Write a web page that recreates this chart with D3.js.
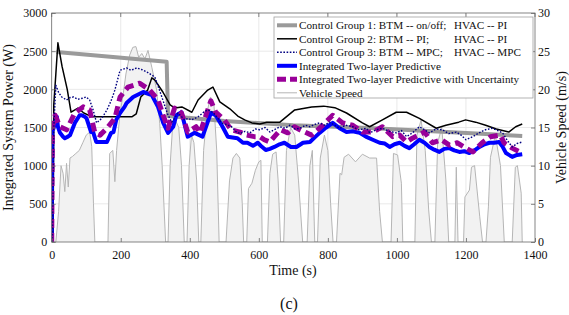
<!DOCTYPE html>
<html>
<head>
<meta charset="utf-8">
<script src="https://cdn.jsdelivr.net/npm/d3@7"></script>
<style>
  body { margin: 0; background: #fff; }
  text { font-family: "Liberation Serif", "Times New Roman", serif; fill: #111; }
</style>
</head>
<body>
<div id="chart"></div>
<script>
// tick values
const timeTicks = [0, 200, 400, 600, 800, 1000, 1200, 1400];
const powerTicks = [0, 500, 1000, 1500, 2000, 2500, 3000];
const speedTicks = [0, 5, 10, 15, 20, 25, 30];

// legend labels: [left part, HVAC part]
const legendLabels = [
  ['Control Group 1: BTM -- on/off;', 'HVAC -- PI'],
  ['Control Group 2: BTM -- PI;', 'HVAC -- PI'],
  ['Control Group 3: BTM -- MPC;', 'HVAC -- MPC'],
  ['Integrated Two-layer Predictive', ''],
  ['Integrated Two-layer Predictive with Uncertainty', ''],
  ['Vehicle Speed', ''],
];

// series, [time (s), power (W)]
const cg1 = [[14, 2490], [333, 2360], [337, 1650], [500, 1585], [700, 1530], [920, 1495], [1363, 1390]];

const cg2 = [[4, 0], [6, 1800], [12, 2200], [18, 2610], [30, 2300], [45, 2000], [56, 1700], [76, 1755],
  [93, 1690], [117, 1640], [150, 1640], [200, 1640], [232, 1640], [245, 1680], [258, 1900], [278, 1990],
  [290, 2150], [299, 2120], [322, 1965], [343, 1795], [357, 1755], [377, 1770], [406, 1700], [424, 1860],
  [452, 1990], [467, 2030], [487, 1835], [516, 1745], [539, 1650], [559, 1600], [580, 1560], [603, 1545],
  [623, 1570], [661, 1570], [704, 1730], [753, 1770], [788, 1780], [820, 1760], [854, 1690], [900, 1560],
  [921, 1510], [958, 1600], [998, 1700], [1028, 1700], [1065, 1620], [1114, 1490], [1142, 1530],
  [1179, 1570], [1199, 1600], [1228, 1570], [1257, 1530], [1288, 1480], [1324, 1440], [1344, 1510], [1363, 1545]];

const cg3 = [[2, 0], [6, 1500], [12, 2055], [20, 1960], [29, 1900], [36, 1880], [43, 1860], [52, 1890],
  [63, 1900], [76, 1870], [91, 1885], [100, 1900], [110, 1860], [120, 1730], [130, 1560], [145, 1620],
  [160, 1730], [172, 1850], [183, 1990], [198, 2250], [217, 2280], [230, 2250], [246, 2280], [260, 2260],
  [275, 2230], [299, 2160], [319, 1900], [337, 1660], [348, 1570], [366, 1690], [385, 1600], [395, 1620],
  [405, 1600], [424, 1640], [440, 1700], [452, 1730], [467, 1700], [492, 1560], [505, 1540], [521, 1510],
  [533, 1450], [545, 1420], [560, 1450], [574, 1430], [590, 1480], [603, 1470], [618, 1500], [632, 1440],
  [648, 1480], [661, 1510], [676, 1490], [690, 1530], [705, 1480], [719, 1490], [735, 1530], [748, 1510],
  [762, 1540], [776, 1560], [790, 1530], [805, 1570], [820, 1530], [834, 1490], [852, 1530], [872, 1510],
  [890, 1470], [912, 1490], [921, 1430], [940, 1470], [958, 1490], [978, 1450], [998, 1430], [1013, 1460],
  [1028, 1380], [1045, 1430], [1065, 1510], [1080, 1470], [1094, 1430], [1113, 1480], [1132, 1470],
  [1150, 1420], [1172, 1440], [1186, 1400], [1200, 1340], [1220, 1380], [1238, 1430], [1256, 1470],
  [1276, 1490], [1292, 1460], [1306, 1430], [1320, 1330], [1334, 1245], [1348, 1290], [1363, 1310]];

const twoLayer = [[0, 0], [2, 1470], [4, 1470], [15, 1640], [18, 1510], [24, 1430], [33, 1380], [38, 1360],
  [47, 1380], [53, 1400], [61, 1490], [67, 1560], [81, 1660], [87, 1660], [96, 1640], [101, 1620],
  [114, 1440], [120, 1440], [129, 1310], [140, 1310], [154, 1310], [160, 1310], [172, 1430], [179, 1440],
  [187, 1600], [198, 1690], [211, 1770], [217, 1820], [236, 1900], [265, 1965], [290, 1925], [308, 1770],
  [323, 1560], [337, 1430], [352, 1510], [361, 1660], [376, 1700], [394, 1380], [414, 1430], [437, 1380],
  [461, 1690], [475, 1660], [495, 1510], [510, 1380], [538, 1360], [554, 1300], [567, 1300], [583, 1260],
  [597, 1300], [608, 1250], [620, 1205], [632, 1220], [645, 1245], [660, 1280], [674, 1300], [693, 1245],
  [709, 1245], [728, 1300], [748, 1310], [762, 1370], [776, 1430], [795, 1500], [814, 1560], [834, 1490],
  [854, 1440], [872, 1450], [892, 1430], [910, 1380], [930, 1340], [950, 1300], [965, 1290], [979, 1245],
  [993, 1280], [1008, 1300], [1022, 1260], [1036, 1230], [1050, 1280], [1065, 1340], [1080, 1300],
  [1094, 1245], [1108, 1210], [1123, 1180], [1137, 1220], [1152, 1230], [1166, 1200], [1181, 1180],
  [1195, 1190], [1210, 1165], [1225, 1200], [1239, 1245], [1254, 1280], [1268, 1300], [1282, 1300],
  [1296, 1310], [1306, 1250], [1316, 1165], [1334, 1115], [1348, 1140], [1363, 1150]];

const twoLayerUnc = [[0, 0], [2, 1500], [10, 1660], [24, 1510], [43, 1470], [67, 1690], [91, 1770],
  [110, 1730], [125, 1430], [140, 1400], [160, 1490], [183, 1620], [198, 1900], [221, 2030], [255, 2080],
  [284, 1990], [308, 1860], [323, 1660], [337, 1490], [356, 1755], [376, 1690], [394, 1440], [418, 1510],
  [430, 1430], [461, 1850], [475, 1700], [500, 1600], [520, 1470], [545, 1440], [565, 1400], [587, 1380],
  [603, 1380], [616, 1340], [632, 1310], [645, 1380], [663, 1470], [684, 1430], [703, 1510], [719, 1470],
  [753, 1400], [776, 1490], [814, 1660], [843, 1560], [872, 1530], [901, 1440], [930, 1440], [958, 1510],
  [988, 1380], [1008, 1400], [1028, 1310], [1045, 1360], [1080, 1440], [1103, 1300], [1129, 1340],
  [1152, 1270], [1175, 1300], [1200, 1230], [1220, 1180], [1247, 1300], [1271, 1380], [1300, 1400],
  [1310, 1300], [1334, 1230], [1356, 1180]];

// vehicle speed, [time (s), speed (m/s)]
const speed = [[0, 0], [12, 0], [20, 4], [27, 10], [33, 9], [38, 6.6], [43, 10.3], [48, 7.2], [53, 11],
  [60, 11.2], [70, 11.6], [80, 12], [90, 13], [100, 14], [110, 14.4], [116, 12.5], [121, 5], [125, 0],
  [163, 0], [168, 11.6], [177, 12], [183, 7.9], [188, 12], [198, 17], [206, 19], [215, 22], [226, 24.5],
  [235, 25.5], [244, 25.6], [252, 24.2], [261, 24.7], [270, 24], [279, 25.1], [290, 22.9], [304, 19.9],
  [313, 15.5], [320, 10], [330, 0],
  [337, 0], [343, 10], [350, 15], [358, 16], [368, 15], [376, 10], [384, 0],
  [392, 0], [398, 10], [405, 14], [412, 13], [420, 8], [426, 0],
  [432, 0], [440, 12], [450, 17], [460, 19], [470, 18], [478, 12], [485, 0],
  [505, 0], [515, 8], [525, 11], [535, 11.6], [545, 11], [552, 5], [556, 0],
  [565, 0], [570, 7], [580, 7.7], [590, 9.4], [600, 10.5], [606, 10.7], [610, 0],
  [625, 0], [632, 9], [640, 11.5], [650, 11.8], [656, 8], [663, 0],
  [672, 0], [680, 12], [692, 15], [704, 14], [715, 8], [727, 0],
  [740, 0], [748, 10], [755, 12], [762, 0],
  [770, 0], [778, 11], [790, 14], [800, 12], [808, 5], [815, 0],
  [825, 0], [835, 9], [840, 8.8], [847, 11.1], [860, 11.5], [880, 10.5], [900, 11.5], [921, 11],
  [941, 11], [950, 4], [958, 0],
  [983, 0], [990, 11.6], [1002, 11.4], [1013, 7.7], [1017, 0],
  [1052, 0], [1058, 14], [1070, 16], [1082, 12], [1092, 4.2], [1100, 0],
  [1110, 0], [1118, 13], [1130, 15], [1142, 8], [1150, 0],
  [1168, 0], [1172, 9.8], [1177, 0],
  [1193, 0], [1197, 5.9], [1210, 6.8], [1216, 9.8], [1225, 10], [1240, 3.3], [1248, 0],
  [1258, 0], [1265, 4.6], [1271, 11.1], [1285, 14], [1300, 10], [1311, 0],
  [1334, 0], [1343, 9.8], [1349, 10], [1360, 6.4], [1363, 0]];

const W = 569, H = 315;
const plot = { left: 51.7, right: 535, top: 13, bottom: 242 };

const svg = d3.select('#chart').append('svg')
  .attr('width', W)
  .attr('height', H);

const x = d3.scaleLinear().domain([0, 1400]).range([plot.left, plot.right]);
const y = d3.scaleLinear().domain([0, 3000]).range([plot.bottom, plot.top]);
const ySpeed = d3.scaleLinear().domain([0, 30]).range([plot.bottom, plot.top]);

svg.append('clipPath').attr('id', 'clip')
  .append('rect')
  .attr('x', plot.left).attr('y', plot.top)
  .attr('width', plot.right - plot.left).attr('height', plot.bottom - plot.top);

// grid
const grid = svg.append('g').attr('stroke', '#e3e3e3').attr('stroke-width', 0.8);
grid.selectAll('.gx').data(timeTicks.slice(1, -1)).enter().append('line')
  .attr('x1', d => x(d)).attr('x2', d => x(d))
  .attr('y1', plot.top).attr('y2', plot.bottom);
grid.selectAll('.gy').data(powerTicks.slice(1, -1)).enter().append('line')
  .attr('x1', plot.left).attr('x2', plot.right)
  .attr('y1', d => y(d)).attr('y2', d => y(d));

const lines = svg.append('g').attr('clip-path', 'url(#clip)');

// vehicle speed, filled
lines.append('path')
  .datum(speed)
  .attr('d', d3.area().x(d => x(d[0])).y0(ySpeed(0)).y1(d => ySpeed(d[1])))
  .attr('fill', '#f2f2f2');
lines.append('path')
  .datum(speed)
  .attr('d', d3.line().x(d => x(d[0])).y(d => ySpeed(d[1])))
  .attr('fill', 'none')
  .attr('stroke', '#b5b5b5')
  .attr('stroke-width', 1);

const powerLine = d3.line().x(d => x(d[0])).y(d => y(d[1]));

const styles = [
  { data: cg1, stroke: '#9a9a9a', width: 4, dash: null },
  { data: cg2, stroke: '#000', width: 1.5, dash: null },
  { data: twoLayer, stroke: '#0000ff', width: 4, dash: null },
  { data: twoLayerUnc, stroke: '#990099', width: 5, dash: '9,5' },
  { data: cg3, stroke: '#000080', width: 1.4, dash: '1.6,1.6' },
];

styles.forEach(s => {
  lines.append('path')
    .datum(s.data)
    .attr('d', powerLine)
    .attr('fill', 'none')
    .attr('stroke', s.stroke)
    .attr('stroke-width', s.width)
    .attr('stroke-dasharray', s.dash)
    .attr('stroke-linejoin', 'round');
});

// axes
const fmt = d3.format('d');
const bottomAxis = d3.axisBottom(x).tickValues(timeTicks).tickFormat(fmt).tickSize(-4).tickPadding(8.5);
const leftAxis = d3.axisLeft(y).tickValues(powerTicks).tickFormat(fmt).tickSize(-4).tickPadding(4.5);
const rightAxis = d3.axisRight(ySpeed).tickValues(speedTicks).tickFormat(fmt).tickSize(-4).tickPadding(3);

function styleAxis(g) {
  g.select('.domain').remove();
  g.selectAll('.tick line').attr('stroke', '#666').attr('stroke-width', 0.8);
  g.selectAll('.tick text').attr('font-size', 12).attr('font-family', '"Liberation Serif", serif').attr('fill', '#111');
}

svg.append('g').attr('transform', `translate(0,${plot.bottom})`).call(bottomAxis).call(styleAxis);
svg.append('g').attr('transform', `translate(${plot.left},0)`).call(leftAxis).call(styleAxis);
svg.append('g').attr('transform', `translate(${plot.right},0)`).call(rightAxis).call(styleAxis);

// top ticks
svg.append('g').selectAll('line').data(timeTicks).enter().append('line')
  .attr('x1', d => x(d)).attr('x2', d => x(d))
  .attr('y1', plot.top).attr('y2', plot.top + 4)
  .attr('stroke', '#666').attr('stroke-width', 0.8);

svg.append('rect')
  .attr('x', plot.left).attr('y', plot.top)
  .attr('width', plot.right - plot.left).attr('height', plot.bottom - plot.top)
  .attr('fill', 'none').attr('stroke', '#666').attr('stroke-width', 0.8);

// axis labels
svg.append('text')
  .attr('transform', `translate(13,${(plot.top + plot.bottom) / 2}) rotate(-90)`)
  .attr('text-anchor', 'middle').attr('font-size', 14)
  .text('Integrated System Power (W)');
svg.append('text')
  .attr('transform', `translate(566,${(plot.top + plot.bottom) / 2}) rotate(-90)`)
  .attr('text-anchor', 'middle').attr('font-size', 14)
  .text('Vehicle Speed (m/s)');
svg.append('text')
  .attr('x', 293).attr('y', 275)
  .attr('text-anchor', 'middle').attr('font-size', 14)
  .text('Time (s)');
svg.append('text')
  .attr('x', 289).attr('y', 309)
  .attr('text-anchor', 'middle').attr('font-size', 16)
  .text('(c)');

// legend
const legend = svg.append('g');
legend.append('rect')
  .attr('x', 274).attr('y', 17).attr('width', 259).attr('height', 81)
  .attr('fill', '#fff').attr('stroke', '#a0a0a0').attr('stroke-width', 0.8);

const legendStyles = [styles[0], styles[1], styles[4], styles[2], styles[3],
  { stroke: '#b5b5b5', width: 1, dash: null }];

legendLabels.forEach((lab, i) => {
  const cy = 25.3 + i * 13.5;
  const s = legendStyles[i];
  legend.append('line')
    .attr('x1', 277).attr('x2', 297).attr('y1', cy).attr('y2', cy)
    .attr('stroke', s.stroke).attr('stroke-width', s.width)
    .attr('stroke-dasharray', i === 4 ? '9,4' : s.dash);
  legend.append('text')
    .attr('x', 299).attr('y', cy + 4).attr('font-size', 11.2)
    .text(lab[0]);
  if (lab[1]) {
    legend.append('text')
      .attr('x', 454).attr('y', cy + 4).attr('font-size', 11.2)
      .text(lab[1]);
  }
});
</script>
</body>
</html>
